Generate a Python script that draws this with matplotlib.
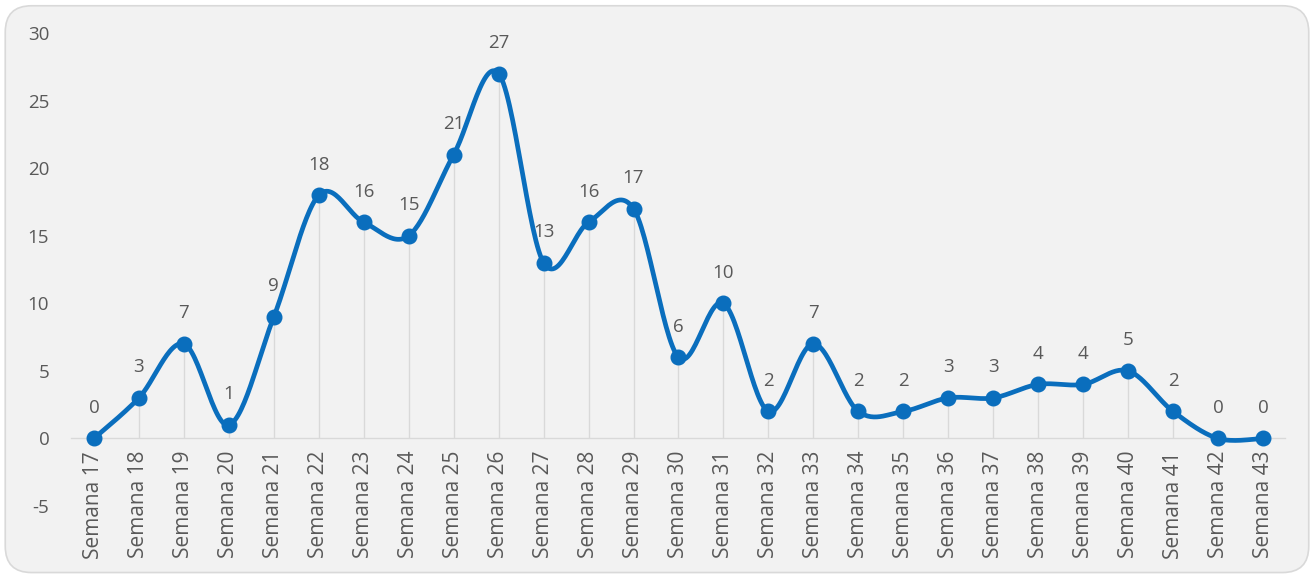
import numpy as np
import matplotlib
matplotlib.use("Agg")
import matplotlib.pyplot as plt
from matplotlib.patches import FancyBboxPatch

weeks = [f"Semana {i}" for i in range(17, 44)]
values = [0, 3, 7, 1, 9, 18, 16, 15, 21, 27, 13, 16, 17, 6, 10, 2, 7, 2, 2, 3, 3, 4, 4, 5, 2, 0, 0]
y_ticks = [-5, 0, 5, 10, 15, 20, 25, 30]

LINE = "#0A6EBD"
TEXT = "#595959"
plt.rcParams['font.family'] = ['Open Sans', 'DejaVu Sans']


def smooth(x, y, n=30):
    # Excel-like smoothed line: cubic Bezier with Catmull-Rom control points
    x = np.asarray(x, float)
    y = np.asarray(y, float)
    px, py = [], []
    k = 1 / 6
    for i in range(len(x) - 1):
        x0, y0 = (x[i - 1], y[i - 1]) if i > 0 else (x[i], y[i])
        x3, y3 = (x[i + 2], y[i + 2]) if i + 2 < len(x) else (x[i + 1], y[i + 1])
        p1 = np.array([x[i], y[i]])
        p2 = np.array([x[i + 1], y[i + 1]])
        c1 = p1 + k * (p2 - np.array([x0, y0]))
        c2 = p2 - k * (np.array([x3, y3]) - p1)
        t = np.linspace(0, 1, n)[:, None]
        pts = ((1 - t) ** 3) * p1 + 3 * ((1 - t) ** 2) * t * c1 + 3 * (1 - t) * t ** 2 * c2 + t ** 3 * p2
        px.extend(pts[:, 0])
        py.extend(pts[:, 1])
    return np.array(px), np.array(py)


fig = plt.figure(figsize=(13.14, 5.76), dpi=100)
fig.patch.set_facecolor("white")
bg = FancyBboxPatch((0.004, 0.006), 0.992, 0.984, boxstyle="round,pad=0,rounding_size=0.02",
                    transform=fig.transFigure, facecolor="#F2F2F2", edgecolor="#D9D9D9",
                    linewidth=1.2, zorder=-10, mutation_aspect=1314 / 576)
fig.patches.append(bg)

ax = fig.add_axes([0.0544, 0.1215, 0.9239, 0.8212])
ax.set_zorder(5)
ax.set_facecolor("none")
x = np.arange(len(values))

for s in ["top", "right", "left"]:
    ax.spines[s].set_visible(False)
ax.spines["bottom"].set_position(("data", 0))
ax.spines["bottom"].set_color("#D9D9D9")
ax.spines["bottom"].set_linewidth(1.0)

ax.vlines(x, 0, values, colors="#D9D9D9", linewidth=1.0, zorder=1)
sx, sy = smooth(x, values)
ax.plot(sx, sy, color=LINE, linewidth=3.4, zorder=3, solid_capstyle="round")
ax.plot(x, values, "o", color=LINE, markersize=10.5, zorder=4)

for xi, v in zip(x, values):
    ax.annotate(str(v), (xi, v), xytext=(0, 15.5), textcoords="offset points",
                ha="center", va="bottom", fontsize=13.5, color=TEXT)

ax.set_xlim(-0.5, len(values) - 0.5)
ax.set_ylim(-5, 30)
ax.set_yticks(y_ticks)
ax.set_yticklabels([str(t) for t in y_ticks])
ax.set_xticks(x)
ax.set_xticklabels(weeks)
ax.tick_params(axis="both", length=0, colors=TEXT)
ax.tick_params(axis="y", labelsize=13.5, pad=16)
ax.tick_params(axis="x", labelsize=15, labelrotation=90, pad=9)

fig.savefig("out.png", dpi=100, facecolor="white")
